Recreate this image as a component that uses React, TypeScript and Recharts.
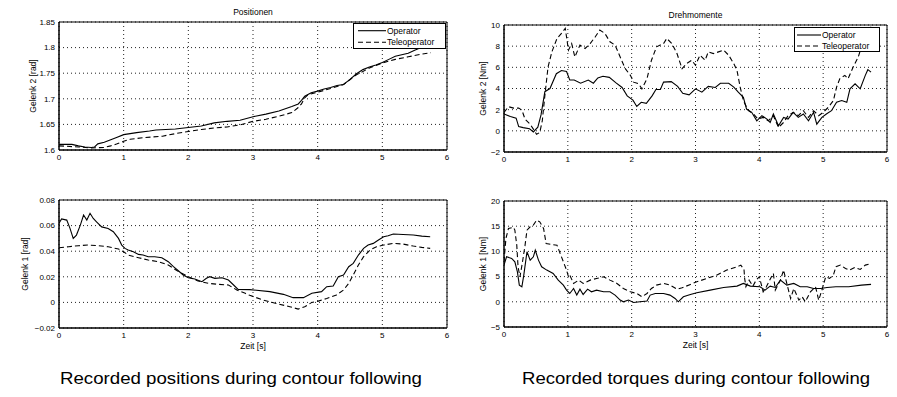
import React from 'react';
import { LineChart, Line, XAxis, YAxis, CartesianGrid, ReferenceArea, Legend } from 'recharts';

type Pt = [number, number];

// ---------- tick values / labels ----------
const timeTicks = [0, 1, 2, 3, 4, 5, 6];
const timeTickLabels = ['0', '1', '2', '3', '4', '5', '6'];

const posJ2Ticks = [1.6, 1.65, 1.7, 1.75, 1.8, 1.85];
const posJ2Labels = ['1.6', '1.65', '1.7', '1.75', '1.8', '1.85'];
const posJ1Ticks = [-0.02, 0, 0.02, 0.04, 0.06, 0.08];
const posJ1Labels = ['\u22120.02', '0', '0.02', '0.04', '0.06', '0.08'];
const trqJ2Ticks = [-2, 0, 2, 4, 6, 8, 10];
const trqJ2Labels = ['\u22122', '0', '2', '4', '6', '8', '10'];
const trqJ1Ticks = [-5, 0, 5, 10, 15, 20];
const trqJ1Labels = ['\u22125', '0', '5', '10', '15', '20'];

const seriesNames = ['Operator', 'Teleoperator'];

// ---------- Positionen, Gelenk 2 [rad] ----------
const posJ2Operator: Pt[] = [
  [0, 1.611], [0.2, 1.611], [0.3, 1.608], [0.4, 1.606], [0.5, 1.605], [0.55, 1.606], [0.6, 1.612],
  [0.7, 1.615], [0.8, 1.62], [0.9, 1.625], [1.0, 1.63], [1.1, 1.632], [1.2, 1.634], [1.4, 1.637],
  [1.5, 1.639], [1.8, 1.641], [2.0, 1.644], [2.2, 1.647], [2.4, 1.653], [2.6, 1.656], [2.8, 1.658],
  [3.0, 1.665], [3.2, 1.67], [3.4, 1.676], [3.6, 1.685], [3.7, 1.69], [3.75, 1.697], [3.8, 1.705],
  [3.9, 1.712], [4.0, 1.715], [4.1, 1.719], [4.2, 1.722], [4.3, 1.726], [4.4, 1.728], [4.5, 1.738],
  [4.6, 1.749], [4.7, 1.757], [4.8, 1.762], [4.9, 1.766], [5.0, 1.771], [5.1, 1.777], [5.2, 1.783],
  [5.3, 1.786], [5.4, 1.789], [5.5, 1.795], [5.6, 1.8], [5.75, 1.806],
];
const posJ2Teleoperator: Pt[] = [
  [0, 1.608], [0.3, 1.606], [0.5, 1.604], [0.7, 1.605], [0.8, 1.608], [0.9, 1.612], [1.0, 1.617],
  [1.1, 1.621], [1.3, 1.624], [1.6, 1.627], [1.8, 1.632], [2.0, 1.636], [2.2, 1.64], [2.4, 1.643],
  [2.6, 1.645], [2.8, 1.649], [3.0, 1.656], [3.2, 1.66], [3.4, 1.666], [3.6, 1.673], [3.7, 1.683],
  [3.75, 1.69], [3.8, 1.702], [3.85, 1.708], [4.0, 1.713], [4.2, 1.72], [4.4, 1.728], [4.6, 1.747],
  [4.8, 1.76], [5.0, 1.77], [5.2, 1.777], [5.4, 1.782], [5.6, 1.787], [5.75, 1.79],
];

// ---------- Positionen, Gelenk 1 [rad] ----------
const posJ1Operator: Pt[] = [
  [0, 0.0618], [0.04, 0.0652], [0.12, 0.0643], [0.17, 0.0578], [0.22, 0.05], [0.27, 0.0526],
  [0.33, 0.0604], [0.38, 0.0683], [0.43, 0.0643], [0.48, 0.0696], [0.53, 0.0656], [0.58, 0.063],
  [0.66, 0.059], [0.76, 0.0578], [0.84, 0.0552], [0.92, 0.05], [0.97, 0.0448], [1.02, 0.0422],
  [1.07, 0.0409], [1.15, 0.0396], [1.23, 0.0375], [1.3, 0.037], [1.38, 0.0357], [1.48, 0.0357],
  [1.59, 0.0349], [1.69, 0.0318], [1.77, 0.0279], [1.85, 0.0245], [1.92, 0.0214], [2.0, 0.0193],
  [2.1, 0.0183], [2.21, 0.0162], [2.28, 0.0188], [2.33, 0.0201], [2.41, 0.0188], [2.52, 0.0193],
  [2.62, 0.0175], [2.7, 0.0136], [2.77, 0.0102], [2.95, 0.01], [3.26, 0.0084], [3.47, 0.0063],
  [3.62, 0.0037], [3.78, 0.0037], [3.91, 0.0071], [4.06, 0.0084], [4.14, 0.0123], [4.24, 0.0128],
  [4.32, 0.0201], [4.4, 0.0214], [4.48, 0.0279], [4.55, 0.0305], [4.63, 0.037], [4.71, 0.0422],
  [4.78, 0.0448], [4.86, 0.0461], [4.94, 0.0487], [5.02, 0.0513], [5.09, 0.0521], [5.17, 0.0534],
  [5.32, 0.0531], [5.48, 0.0526], [5.61, 0.0518], [5.74, 0.0513],
];
const posJ1Teleoperator: Pt[] = [
  [0, 0.0427], [0.15, 0.0435], [0.3, 0.0443], [0.45, 0.0448], [0.61, 0.0443], [0.76, 0.0435],
  [0.92, 0.0417], [1.0, 0.0396], [1.07, 0.037], [1.23, 0.0349], [1.38, 0.0331], [1.54, 0.0318],
  [1.69, 0.0292], [1.85, 0.024], [2.0, 0.0201], [2.15, 0.0167], [2.31, 0.0149], [2.46, 0.0141],
  [2.62, 0.0136], [2.75, 0.0097], [2.88, 0.0071], [2.95, 0.0055], [3.16, 0.0018], [3.36, -0.0008],
  [3.57, -0.0034], [3.7, -0.0052], [3.8, -0.0034], [3.91, 0.0], [4.01, 0.001], [4.14, 0.0031],
  [4.29, 0.0058], [4.4, 0.0097], [4.48, 0.0149], [4.55, 0.0214], [4.63, 0.0292], [4.71, 0.0357],
  [4.81, 0.0409], [4.91, 0.0435], [5.02, 0.0448], [5.17, 0.0461], [5.32, 0.0456], [5.48, 0.044],
  [5.61, 0.043], [5.74, 0.0422],
];

// ---------- Drehmomente, Gelenk 2 [Nm] ----------
const trqJ2Operator: Pt[] = [
  [0, 1.6], [0.1, 1.35], [0.19, 1.2], [0.23, 0.4], [0.3, 0.3], [0.4, 0.2], [0.46, -0.1], [0.53, 0.35],
  [0.58, 1.5], [0.64, 3.7], [0.72, 4.0], [0.82, 5.4], [0.9, 5.7], [0.98, 5.6], [1.03, 4.8], [1.1, 4.8],
  [1.2, 4.5], [1.32, 4.8], [1.4, 4.5], [1.47, 5.0], [1.55, 5.15], [1.65, 5.05], [1.75, 4.55], [1.85, 4.1],
  [1.93, 3.3], [2.02, 2.9], [2.08, 2.3], [2.15, 2.7], [2.23, 2.6], [2.32, 3.3], [2.38, 3.9], [2.45, 3.9],
  [2.5, 4.6], [2.62, 4.65], [2.72, 4.2], [2.8, 3.55], [2.9, 3.4], [3.0, 3.97], [3.1, 3.65], [3.2, 4.2],
  [3.31, 4.1], [3.39, 4.5], [3.52, 4.5], [3.6, 4.13], [3.67, 3.65], [3.75, 3.17], [3.8, 2.06], [3.88, 1.75],
  [3.96, 0.95], [4.04, 1.43], [4.12, 1.11], [4.17, 0.79], [4.22, 1.59], [4.3, 0.48], [4.38, 1.27],
  [4.45, 1.11], [4.53, 1.75], [4.61, 1.27], [4.69, 1.59], [4.77, 0.95], [4.85, 1.75], [4.9, 0.63],
  [4.98, 1.27], [5.05, 1.59], [5.13, 1.9], [5.21, 2.7], [5.29, 2.86], [5.37, 2.7], [5.42, 3.97],
  [5.5, 4.44], [5.58, 3.97], [5.66, 5.24], [5.7, 5.78], [5.75, 5.55],
];
const trqJ2Teleoperator: Pt[] = [
  [0, 1.74], [0.07, 2.28], [0.15, 2.15], [0.23, 2.15], [0.28, 1.96], [0.33, 1.1], [0.41, 0.63],
  [0.46, 0.16], [0.51, -0.32], [0.56, -0.16], [0.6, 0.95], [0.64, 3.33], [0.69, 6.03], [0.75, 7.46],
  [0.83, 8.73], [0.9, 9.21], [0.96, 9.68], [1.01, 7.62], [1.06, 8.25], [1.11, 6.98], [1.19, 8.1],
  [1.27, 7.78], [1.35, 8.25], [1.43, 8.89], [1.5, 9.52], [1.58, 9.21], [1.66, 8.41], [1.74, 8.1],
  [1.82, 6.98], [1.9, 5.87], [1.98, 5.24], [2.03, 4.6], [2.11, 4.44], [2.16, 3.97], [2.24, 4.92],
  [2.31, 6.67], [2.39, 7.94], [2.5, 8.25], [2.55, 8.73], [2.63, 8.25], [2.71, 7.3], [2.79, 5.87],
  [2.86, 6.35], [2.94, 6.67], [3.0, 6.2], [3.07, 7.14], [3.15, 6.67], [3.2, 7.46], [3.28, 7.3],
  [3.36, 7.46], [3.44, 7.62], [3.52, 7.14], [3.6, 6.35], [3.65, 5.71], [3.7, 4.13], [3.75, 2.86],
  [3.83, 1.9], [3.91, 1.59], [3.98, 1.11], [4.06, 1.27], [4.14, 0.95], [4.22, 1.43], [4.3, 0.32],
  [4.38, 0.79], [4.45, 1.43], [4.53, 1.75], [4.61, 1.43], [4.69, 1.9], [4.77, 1.27], [4.85, 1.9],
  [4.93, 1.43], [5.0, 1.75], [5.08, 2.22], [5.16, 2.86], [5.21, 4.13], [5.26, 4.92], [5.34, 5.24],
  [5.39, 4.92], [5.47, 6.03], [5.55, 6.98], [5.63, 8.57], [5.68, 9.21], [5.75, 9.84],
];

// ---------- Drehmomente, Gelenk 1 [Nm] ----------
const trqJ1Operator: Pt[] = [
  [0, 7.28], [0.04, 8.93], [0.12, 8.6], [0.17, 7.94], [0.21, 5.95], [0.24, 3.31], [0.28, 2.98],
  [0.31, 5.29], [0.36, 9.92], [0.41, 8.27], [0.46, 8.93], [0.49, 10.25], [0.54, 8.27], [0.59, 6.95],
  [0.67, 6.29], [0.77, 5.63], [0.85, 4.3], [0.93, 3.31], [0.98, 2.32], [1.03, 1.65], [1.09, 2.65],
  [1.14, 1.33], [1.19, 2.51], [1.24, 1.46], [1.31, 2.51], [1.37, 1.98], [1.45, 2.32], [1.56, 1.98],
  [1.66, 1.98], [1.74, 1.33], [1.82, 0.34], [1.87, 0.0], [1.95, 0.34], [2.03, -0.13], [2.13, 0.0],
  [2.24, 0.14], [2.29, 1.33], [2.37, 1.65], [2.5, 1.65], [2.6, 1.33], [2.68, 0.67], [2.73, 0.0],
  [2.81, 1.0], [2.92, 1.46], [3.02, 1.79], [3.23, 2.32], [3.44, 2.84], [3.65, 3.11], [3.75, 3.64],
  [3.86, 3.11], [4.01, 2.98], [4.09, 2.32], [4.17, 3.11], [4.25, 2.84], [4.33, 4.3], [4.43, 3.31],
  [4.54, 3.64], [4.64, 2.98], [4.75, 2.98], [4.85, 2.65], [4.96, 2.65], [5.06, 2.84], [5.2, 2.98],
  [5.4, 2.98], [5.6, 3.3], [5.75, 3.45],
];
const trqJ1Teleoperator: Pt[] = [
  [0, 7.94], [0.03, 12.57], [0.07, 14.55], [0.15, 14.75], [0.17, 14.22], [0.2, 11.24], [0.22, 6.95],
  [0.25, 4.96], [0.29, 7.94], [0.33, 11.24], [0.36, 14.22], [0.41, 14.88], [0.46, 15.21], [0.51, 16.2],
  [0.56, 15.87], [0.62, 14.55], [0.66, 11.57], [0.75, 11.37], [0.83, 11.24], [0.88, 9.59], [0.93, 7.94],
  [0.98, 6.29], [1.01, 4.96], [1.03, 5.29], [1.09, 3.64], [1.17, 4.3], [1.24, 3.64], [1.35, 4.3],
  [1.45, 4.63], [1.56, 4.96], [1.66, 4.3], [1.77, 3.64], [1.87, 2.65], [1.98, 1.98], [2.08, 1.65],
  [2.16, 1.0], [2.24, 1.65], [2.31, 2.65], [2.39, 3.31], [2.5, 3.64], [2.6, 3.31], [2.71, 2.51],
  [2.79, 2.78], [2.92, 3.44], [3.02, 3.97], [3.18, 4.63], [3.33, 5.29], [3.49, 6.29], [3.65, 6.95],
  [3.71, 7.28], [3.76, 6.42], [3.77, 4.63], [3.79, 2.98], [3.84, 4.3], [3.9, 3.11], [3.95, 4.3],
  [4.0, 4.96], [4.06, 1.98], [4.11, 2.98], [4.19, 4.96], [4.22, 5.63], [4.25, 2.32], [4.33, 4.3],
  [4.38, 6.29], [4.43, 3.64], [4.49, 0.66], [4.54, 2.65], [4.62, 0.33], [4.67, 1.0], [4.72, 0.0],
  [4.8, 1.98], [4.88, 2.98], [4.93, 0.33], [4.98, 2.32], [5.04, 4.96], [5.1, 4.63], [5.16, 5.29],
  [5.2, 6.95], [5.27, 7.28], [5.35, 6.62], [5.41, 6.29], [5.5, 6.82], [5.58, 6.42], [5.66, 7.28],
  [5.75, 7.61],
];

const captionLeft = 'Recorded positions during contour following';
const captionRight = 'Recorded torques during contour following';

// ---------- layout constants ----------
const YW = 60;
const MT = 20;
const MR = 12;
const XH = 30;
const FONT = '"Liberation Sans", Arial, Helvetica, sans-serif';

const toRows = (pts: Pt[]) => pts.map(([t, v]) => ({ t, v }));

type LegendSpec = { x: number; y: number; w: number; h: number; lineStart: number; lineEnd: number; textX: number; rows: number[] };

type PanelProps = {
  left: number; top: number; w: number; h: number;
  yTicks: number[]; yLabels: string[]; yDomain: [number, number];
  op: Pt[]; tele: Pt[];
  legend?: LegendSpec;
};

function LegendBox({ spec, payload }: { spec: LegendSpec; payload?: any[] }) {
  const items = (payload && payload.length ? payload.map((p: any) => p.value) : seriesNames) as string[];
  return (
    <svg width={spec.w} height={spec.h} style={{ display: 'block' }}>
      <rect x={0.5} y={0.5} width={spec.w - 1} height={spec.h - 1} fill="#fff" stroke="#000" strokeWidth={1} />
      {items.map((name, i) => (
        <g key={name}>
          <line x1={spec.lineStart} x2={spec.lineEnd} y1={spec.rows[i]} y2={spec.rows[i]} stroke="#000" strokeWidth={1.1}
            strokeDasharray={i === 1 ? '5 3' : undefined} />
          <text x={spec.textX} y={spec.rows[i]} dominantBaseline="central" fontSize={8.5} fill="#000" fontFamily={FONT}>{name}</text>
        </g>
      ))}
    </svg>
  );
}

function Panel(p: PanelProps) {
  const chartLeft = p.left - YW;
  const chartTop = p.top - MT;
  const width = YW + p.w + MR;
  const height = MT + p.h + XH;
  return (
    <div style={{ position: 'absolute', left: chartLeft, top: chartTop, width, height }}>
      <LineChart width={width} height={height} margin={{ top: MT, right: MR, left: 0, bottom: 0 }}>
        <CartesianGrid stroke="#222" strokeDasharray="1 3" strokeWidth={1} />
        <XAxis dataKey="t" type="number" domain={[0, 6]} ticks={timeTicks} interval={0}
          tickFormatter={(v: number) => timeTickLabels[timeTicks.indexOf(v)] ?? String(v)}
          tickLine={false} tickSize={0} tickMargin={4} height={XH}
          axisLine={{ stroke: '#000' }} tick={{ fontSize: 8, fill: '#000' }} allowDataOverflow />
        <YAxis type="number" domain={p.yDomain} ticks={p.yTicks} interval={0}
          tickFormatter={(v: number) => {
            const i = p.yTicks.findIndex((t) => Math.abs(t - v) < 1e-9);
            return i >= 0 ? p.yLabels[i] : String(v);
          }}
          tickLine={false} tickSize={0} tickMargin={4} width={YW}
          axisLine={{ stroke: '#000' }} tick={{ fontSize: 8, fill: '#000' }} allowDataOverflow />
        <ReferenceArea x1={0} x2={6} y1={p.yDomain[0]} y2={p.yDomain[1]} fill="none" stroke="#000" strokeWidth={1} ifOverflow="visible" />
        <Line name={seriesNames[0]} data={toRows(p.op)} dataKey="v" type="linear" stroke="#000" strokeWidth={1.1}
          dot={false} activeDot={false} isAnimationActive={false} />
        <Line name={seriesNames[1]} data={toRows(p.tele)} dataKey="v" type="linear" stroke="#000" strokeWidth={1.1}
          strokeDasharray="5 3" dot={false} activeDot={false} isAnimationActive={false} />
        {p.legend && (
          <Legend layout="vertical" align="center" verticalAlign="middle"
            wrapperStyle={{ position: 'absolute', left: p.legend.x - chartLeft, top: p.legend.y - chartTop, width: p.legend.w, height: p.legend.h, margin: 0, padding: 0 }}
            content={(props: any) => <LegendBox spec={p.legend as LegendSpec} payload={props.payload} />} />
        )}
      </LineChart>
    </div>
  );
}

export default function App() {
  return (
    <div style={{ position: 'absolute', left: 0, top: 0, width: 897, height: 397, background: '#fff', overflow: 'hidden', fontFamily: FONT }}>
      <Panel left={59} top={22} w={388} h={128} yTicks={posJ2Ticks} yLabels={posJ2Labels} yDomain={[1.6, 1.85]}
        op={posJ2Operator} tele={posJ2Teleoperator}
        legend={{ x: 353, y: 23, w: 93, h: 26, lineStart: 5, lineEnd: 33, textX: 34, rows: [7.7, 19.3] }} />
      <Panel left={59} top={200} w={388} h={128} yTicks={posJ1Ticks} yLabels={posJ1Labels} yDomain={[-0.02, 0.08]}
        op={posJ1Operator} tele={posJ1Teleoperator} />
      <Panel left={504} top={25} w={383} h={127} yTicks={trqJ2Ticks} yLabels={trqJ2Labels} yDomain={[-2, 10]}
        op={trqJ2Operator} tele={trqJ2Teleoperator}
        legend={{ x: 794, y: 27, w: 86, h: 25, lineStart: 3, lineEnd: 27, textX: 28, rows: [8, 19] }} />
      <Panel left={504} top={201} w={383} h={126} yTicks={trqJ1Ticks} yLabels={trqJ1Labels} yDomain={[-5, 20]}
        op={trqJ1Operator} tele={trqJ1Teleoperator} />

      <svg width={897} height={397} style={{ position: 'absolute', left: 0, top: 0, pointerEvents: 'none' }} fontFamily={FONT}>
        <text x={253} y={12} textAnchor="middle" dominantBaseline="central" fontSize={8.5} fill="#000">Positionen</text>
        <text x={695.5} y={15} textAnchor="middle" dominantBaseline="central" fontSize={8.5} fill="#000">Drehmomente</text>
        <text transform="translate(32.7 86) rotate(-90)" textAnchor="middle" dominantBaseline="central" fontSize={8.5} fill="#000">Gelenk 2 [rad]</text>
        <text transform="translate(25 264) rotate(-90)" textAnchor="middle" dominantBaseline="central" fontSize={8.5} fill="#000">Gelenk 1 [rad]</text>
        <text transform="translate(482.7 88.5) rotate(-90)" textAnchor="middle" dominantBaseline="central" fontSize={8.5} fill="#000">Gelenk 2 [Nm]</text>
        <text transform="translate(483.3 264) rotate(-90)" textAnchor="middle" dominantBaseline="central" fontSize={8.5} fill="#000">Gelenk 1 [Nm]</text>
        <text x={253} y={345.7} textAnchor="middle" dominantBaseline="central" fontSize={8.5} fill="#000">Zeit [s]</text>
        <text x={695.5} y={345} textAnchor="middle" dominantBaseline="central" fontSize={8.5} fill="#000">Zeit [s]</text>
        <text x={60} y={378} dominantBaseline="central" fontSize={17} fill="#000" textLength={362} lengthAdjust="spacingAndGlyphs">{captionLeft}</text>
        <text x={522} y={378} dominantBaseline="central" fontSize={17} fill="#000" textLength={348} lengthAdjust="spacingAndGlyphs">{captionRight}</text>
      </svg>
    </div>
  );
}
